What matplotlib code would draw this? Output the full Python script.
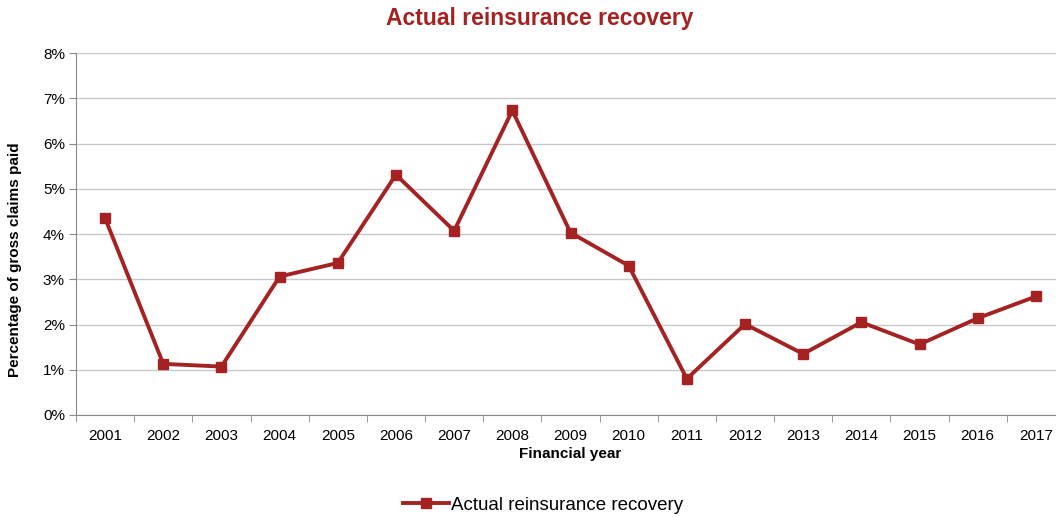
import numpy as np
import matplotlib.pyplot as plt
from matplotlib.ticker import FixedLocator, NullFormatter

plt.rcParams['font.family'] = ['Liberation Sans', 'DejaVu Sans']

# Reinsurance recovery as % of gross claims paid
years = ['2001', '2002', '2003', '2004', '2005', '2006', '2007', '2008', '2009',
         '2010', '2011', '2012', '2013', '2014', '2015', '2016', '2017']
recovery = [4.35, 1.13, 1.07, 3.06, 3.36, 5.31, 4.07, 6.73, 4.03,
            3.30, 0.80, 2.01, 1.35, 2.05, 1.56, 2.14, 2.62]

red = '#A52222'

fig = plt.figure(figsize=(10.56, 5.17), dpi=100)
ax = fig.add_axes([76 / 1056, 1 - 415 / 517, (1065 - 76) / 1056, (415 - 53) / 517])

x = np.arange(len(years))
ax.plot(x, recovery, color=red, lw=2.8, marker='s', ms=6.5,
        label='Actual reinsurance recovery')

ax.set_xlim(-0.5, len(years) - 0.5)
ax.set_ylim(0, 8)
ax.set_yticks(range(0, 9))
ax.set_yticklabels([f'{v}%' for v in range(0, 9)])
ax.set_xticks(x)
ax.set_xticklabels(years)
ax.xaxis.set_minor_locator(FixedLocator(np.arange(-0.5, len(years), 1)))
ax.xaxis.set_minor_formatter(NullFormatter())
ax.tick_params(axis='x', which='major', length=0, pad=10, labelsize=11, colors='black')
ax.tick_params(axis='x', which='minor', length=5, color='#888888')
ax.tick_params(axis='y', length=5, color='#888888', labelsize=11, pad=3)

ax.grid(axis='y', color='#C8C8C8', lw=1)
ax.set_axisbelow(True)
for side in ['top', 'right']:
    ax.spines[side].set_visible(False)
for side in ['left', 'bottom']:
    ax.spines[side].set_color('#888888')

ax.set_xlabel('Financial year', fontsize=11, fontweight='bold', labelpad=3)
ax.set_ylabel('Percentage of gross claims paid', fontsize=11, fontweight='bold',
              va='center')
ax.yaxis.set_label_coords(-0.0617, 0.428)

fig.text(540 / 1056, 1 - 18 / 517, 'Actual reinsurance recovery', ha='center', va='center',
         fontsize=16.5, fontweight='bold', color=red)

fig.legend(loc='center', bbox_to_anchor=(543 / 1056, 1 - 505 / 517), frameon=False,
           fontsize=13.5, handlelength=2.5, handletextpad=0.1)

fig.savefig('out.png', dpi=100)
